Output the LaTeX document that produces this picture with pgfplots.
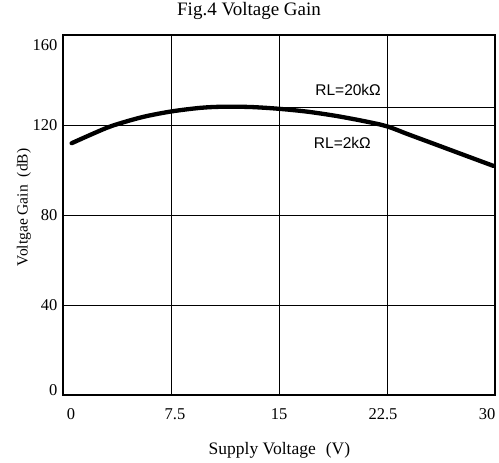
\documentclass[border=0pt]{standalone}
\usepackage{pgfplots}
\pgfplotsset{compat=1.18}
\usepackage{fontspec}
\setmainfont{Liberation Serif}
\newfontfamily\arial{Liberation Sans}

% curve (RL = 2k)
\pgfplotstableread{
x     y
0.6   111.9
2.0   115.9
3.4   119.6
5.5   123.5
7.5   126.0
9.5   127.6
11.0  128.1
13.0  128.0
15.0  127.2
17.0  125.9
19.0  124.0
21.0  121.6
22.5  119.4
24.0  115.8
25.9  111.3
28.0  106.3
29.9  101.8
}\gaincurve

\begin{document}
\begin{tikzpicture}
  \useasboundingbox (-63bp,-68bp) rectangle (436bp,395bp);
  \begin{axis}[
    scale only axis,
    width=432bp, height=360bp,
    xmin=0, xmax=30, ymin=0, ymax=160,
    xtick={0,7.5,15,22.5,30},
    ytick={0,40,80,120,160},
    xticklabels={0,7.5,15,22.5,30},
    grid=major,
    major grid style={black, line width=0.9bp},
    axis line style={black, line width=1.1bp},
    major tick length=0pt,
    /pgf/number format/assume math mode=true,
    tick label style={font=\fontsize{16.5bp}{18bp}\selectfont},
    xticklabel style={anchor=center, yshift=-19bp, xshift={(8-4*\ticknum)*1bp}},
    yticklabel style={anchor=east, xshift=-2bp,
      yshift={(\ticknum==4 ? -10 : (\ticknum==0 ? 5 : 0))*1bp}},
    title={Fig.4 Voltage Gain},
    title style={at={(axis description cs:0.4306,1.05)}, anchor=center,
      font=\fontsize{19bp}{21bp}\selectfont},
    xlabel={Supply Voltage\hspace{10bp}(V)},
    xlabel style={at={(axis description cs:0.501,-0.1528)}, anchor=center,
      font=\fontsize{17.5bp}{20bp}\selectfont},
    ylabel={Voltgae Gain\hspace{8bp}(dB)},
    ylabel style={at={(axis description cs:-0.0903,0.521)}, anchor=center,
      font=\fontsize{15.5bp}{17bp}\selectfont},
  ]
    % RL = 20k stays flat after the peak
    \addplot[black, line width=0.9bp] coordinates {(12,127.7) (30,127.7)};
    \addplot[black, line width=4.3bp, smooth, line cap=round] table[x=x, y=y] {\gaincurve};
    \node[fill=white, inner xsep=5bp, inner ysep=1bp, font=\arial\fontsize{15.5bp}{17bp}\selectfont]
      at (axis cs:19.8,135.6) {RL=20kΩ};
    \node[font=\arial\fontsize{15.5bp}{17bp}\selectfont]
      at (axis cs:19.4,112) {RL=2kΩ};
  \end{axis}
\end{tikzpicture}
\end{document}
